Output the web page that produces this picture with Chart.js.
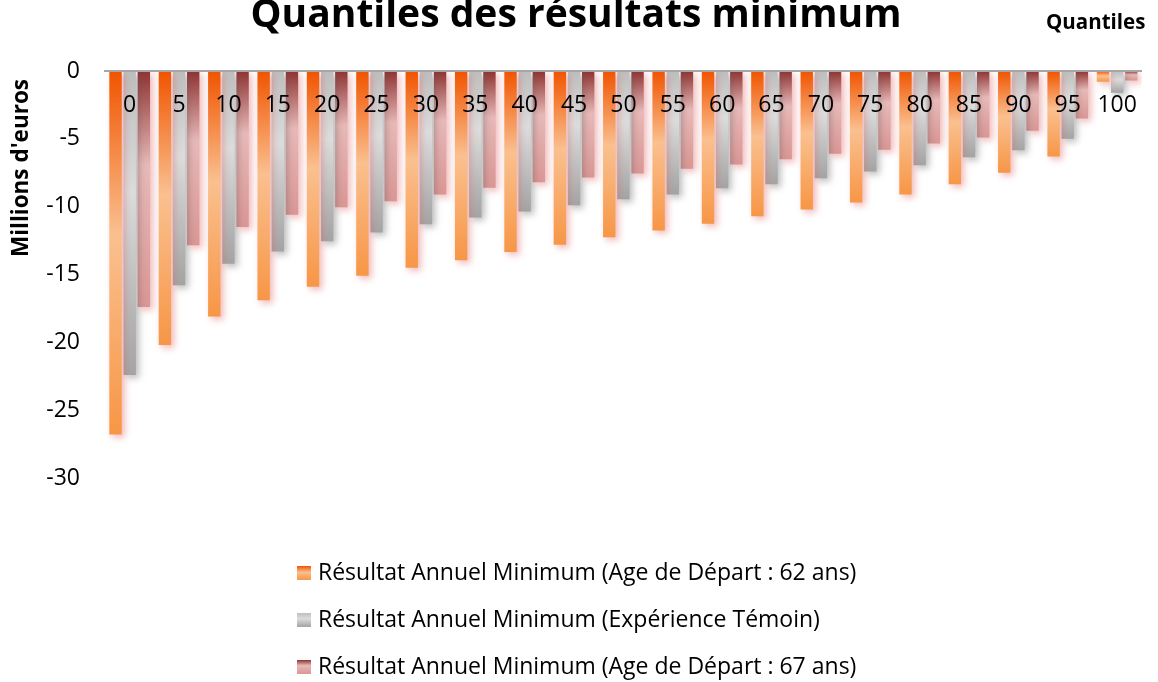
<!DOCTYPE html>
<html><head><meta charset="utf-8">
<script src="https://cdn.jsdelivr.net/npm/chart.js@4"></script>
<style>html,body{margin:0;padding:0;background:#fff}#wrap{width:1158px;height:682px;position:relative}</style>
</head><body><div id="wrap"><canvas id="c" width="1158" height="682"></canvas></div>
<script>
const chartTitle = "Quantiles des résultats minimum";
const xAxisTitle = "Quantiles";
const yAxisTitle = "Millions d'euros";
const categories = ['0','5','10','15','20','25','30','35','40','45','50','55','60','65','70','75','80','85','90','95','100'];
const seriesNames = [
  "Résultat Annuel Minimum (Age de Départ : 62 ans)",
  "Résultat Annuel Minimum (Expérience Témoin)",
  "Résultat Annuel Minimum (Age de Départ : 67 ans)"
];
const age62 = [-26.8,-20.2,-18.1,-16.9,-15.9,-15.1,-14.5,-13.95,-13.35,-12.8,-12.25,-11.75,-11.25,-10.7,-10.2,-9.7,-9.1,-8.35,-7.5,-6.3,-0.8];
const temoin = [-22.4,-15.8,-14.2,-13.3,-12.55,-11.9,-11.3,-10.8,-10.35,-9.9,-9.45,-9.1,-8.65,-8.35,-7.9,-7.4,-6.95,-6.35,-5.85,-5.0,-1.6];
const age67 = [-17.4,-12.85,-11.5,-10.6,-10.05,-9.6,-9.1,-8.6,-8.2,-7.85,-7.55,-7.2,-6.9,-6.5,-6.1,-5.8,-5.35,-4.9,-4.4,-3.5,-0.7];
const yMin = -30, yMax = 0, yStep = 5;

const FONT = "'Open Sans', sans-serif";
const gradStops = [
  [[0,'#f05400'],[0.45,'#fac08f'],[1,'#f79646']],
  [[0,'#bdbdbd'],[0.4,'#dcdcdc'],[1,'#a3a3a3']],
  [[0,'#8e3331'],[0.4,'#e6b9b8'],[1,'#d99694']]
];
const shadowCols = ['rgba(225,95,95,0.45)','rgba(80,80,80,0.4)','rgba(225,95,95,0.45)'];

function barGradient(i){
  return (ctx) => {
    const chart = ctx.chart, y = chart.scales && chart.scales.y;
    const stops = gradStops[i];
    if (!chart.chartArea || !y || typeof ctx.raw !== 'number') return stops[1][1];
    const y0 = y.getPixelForValue(0), y1 = y.getPixelForValue(ctx.raw);
    if (!isFinite(y0) || !isFinite(y1) || Math.abs(y1 - y0) < 1) return stops[1][1];
    const g = chart.ctx.createLinearGradient(0, y0, 0, y1);
    stops.forEach(s => g.addColorStop(s[0], s[1]));
    return g;
  };
}

const shadowPlugin = {
  id: 'shadow',
  beforeDatasetDraw(chart, args){
    const c = chart.ctx; c.save();
    c.shadowColor = shadowCols[args.index]; c.shadowBlur = 7; c.shadowOffsetX = 3; c.shadowOffsetY = 3;
  },
  afterDatasetDraw(chart){ chart.ctx.restore(); }
};

const textPlugin = {
  id: 'texts',
  afterDraw(chart){
    const c = chart.ctx;
    c.save();
    c.fillStyle = '#000';
    c.textBaseline = 'alphabetic';
    c.textAlign = 'center';
    c.font = "bold 39px " + FONT;
    c.fillText(chartTitle, 576, 27);
    c.textAlign = 'left';
    c.font = "bold 20.5px " + FONT;
    c.fillText(xAxisTitle, 1046, 29);
    c.save();
    c.translate(22, 168);
    c.rotate(-Math.PI/2);
    c.textAlign = 'center'; c.textBaseline = 'middle';
    c.font = "bold 22.5px " + FONT;
    c.fillText(yAxisTitle, 0, 0);
    c.restore();
    // legend
    const rows = [573, 620, 667];
    c.font = "23px " + FONT;
    c.textBaseline = 'middle'; c.textAlign = 'left';
    rows.forEach((ry, i) => {
      const g = c.createLinearGradient(0, ry-7, 0, ry+7);
      gradStops[i].forEach(s => g.addColorStop(s[0], s[1]));
      c.fillStyle = g;
      c.fillRect(297, ry-7, 14, 14);
      c.fillStyle = '#000';
      c.fillText(chart.data.datasets[i].label, 318, ry);
    });
    c.restore();
  }
};

new Chart(document.getElementById('c'), {
  type: 'bar',
  data: {
    labels: categories,
    datasets: [
      {label: seriesNames[0], data: age62, backgroundColor: barGradient(0)},
      {label: seriesNames[1], data: temoin, backgroundColor: barGradient(1)},
      {label: seriesNames[2], data: age67, backgroundColor: barGradient(2)}
    ]
  },
  options: {
    responsive: false,
    animation: false,
    categoryPercentage: 0.86,
    barPercentage: 0.875,
    layout: {padding: {left: 0, top: 71, right: 6, bottom: 204}},
    plugins: {legend: {display: false}, title: {display: false}, tooltip: {enabled: false}},
    scales: {
      x: {
        position: {y: 0},
        grid: {display: false, drawTicks: false},
        border: {display: true, color: '#a6a6a6', width: 2, z: 1},
        ticks: {z: 1, color: '#000', font: {family: FONT, size: 23}, padding: 21, maxRotation: 0, autoSkip: false}
      },
      y: {
        min: yMin, max: yMax,
        afterFit(s){ s.width = 105; },
        grid: {display: false, drawTicks: false},
        border: {display: false},
        ticks: {stepSize: yStep, color: '#000', font: {family: FONT, size: 23}, padding: 25}
      }
    }
  },
  plugins: [shadowPlugin, textPlugin]
});
</script>
</body></html>
